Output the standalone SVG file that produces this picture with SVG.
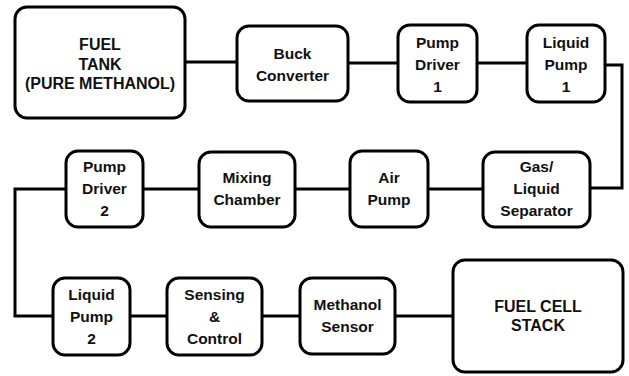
<svg xmlns="http://www.w3.org/2000/svg" width="629" height="376" viewBox="0 0 629 376">
<style>
.box{fill:#fff;stroke:#000;stroke-width:3}
.t{font-family:"Liberation Sans",Arial,sans-serif;font-weight:bold;font-size:15.5px;text-anchor:middle;fill:#111}
.b{font-size:16px}
.c{fill:none;stroke:#000;stroke-width:3}
</style>
<g id="connectors">
<path class="c" d="M185 62H237"/>
<path class="c" d="M348 63H398"/>
<path class="c" d="M477 63H527"/>
<path class="c" d="M605 65H622V188H590"/>
<path class="c" d="M483 189H428"/>
<path class="c" d="M350 189H295"/>
<path class="c" d="M199 189H143"/>
<path class="c" d="M66 189H15V316H53"/>
<path class="c" d="M130 316H167"/>
<path class="c" d="M262 316H300"/>
<path class="c" d="M395 316H453"/>
</g>
<g id="fuel-tank"><rect class="box" x="15" y="7" width="170" height="111" rx="12"/>
<text class="t b" x="100" y="50">FUEL</text><text class="t b" x="100" y="70">TANK</text><text class="t b" x="100" y="89">(PURE METHANOL)</text></g>
<g id="buck"><rect class="box" x="237" y="26" width="111" height="75" rx="12"/>
<text class="t" x="292.5" y="59">Buck</text><text class="t" x="292.5" y="81">Converter</text></g>
<g id="pump-driver-1"><rect class="box" x="398" y="25" width="79" height="77" rx="12"/>
<text class="t" x="437.5" y="48">Pump</text><text class="t" x="437.5" y="70">Driver</text><text class="t" x="437.5" y="92">1</text></g>
<g id="liquid-pump-1"><rect class="box" x="527" y="25" width="78" height="77" rx="12"/>
<text class="t" x="566" y="48">Liquid</text><text class="t" x="566" y="70">Pump</text><text class="t" x="566" y="92">1</text></g>
<g id="separator"><rect class="box" x="483" y="152" width="107" height="75" rx="12"/>
<text class="t" x="536.5" y="172">Gas/</text><text class="t" x="536.5" y="194">Liquid</text><text class="t" x="536.5" y="216">Separator</text></g>
<g id="air-pump"><rect class="box" x="350" y="151" width="78" height="76" rx="12"/>
<text class="t" x="389" y="183">Air</text><text class="t" x="389" y="205">Pump</text></g>
<g id="mixing"><rect class="box" x="199" y="152" width="96" height="75" rx="12"/>
<text class="t" x="247" y="183">Mixing</text><text class="t" x="247" y="205">Chamber</text></g>
<g id="pump-driver-2"><rect class="box" x="66" y="151" width="77" height="76" rx="12"/>
<text class="t" x="104.5" y="172">Pump</text><text class="t" x="104.5" y="194">Driver</text><text class="t" x="104.5" y="216">2</text></g>
<g id="liquid-pump-2"><rect class="box" x="53" y="278" width="77" height="77" rx="12"/>
<text class="t" x="91.5" y="300">Liquid</text><text class="t" x="91.5" y="322">Pump</text><text class="t" x="91.5" y="344">2</text></g>
<g id="sensing"><rect class="box" x="167" y="278" width="95" height="77" rx="12"/>
<text class="t" x="214.5" y="300">Sensing</text><text class="t" x="214.5" y="322">&amp;</text><text class="t" x="214.5" y="344">Control</text></g>
<g id="methanol-sensor"><rect class="box" x="300" y="278" width="95" height="76" rx="12"/>
<text class="t" x="347.5" y="310">Methanol</text><text class="t" x="347.5" y="332">Sensor</text></g>
<g id="fuel-cell"><rect class="box" x="453" y="260" width="170" height="112" rx="12"/>
<text class="t b" x="538" y="312">FUEL CELL</text><text class="t b" x="538" y="331">STACK</text></g>
</svg>
